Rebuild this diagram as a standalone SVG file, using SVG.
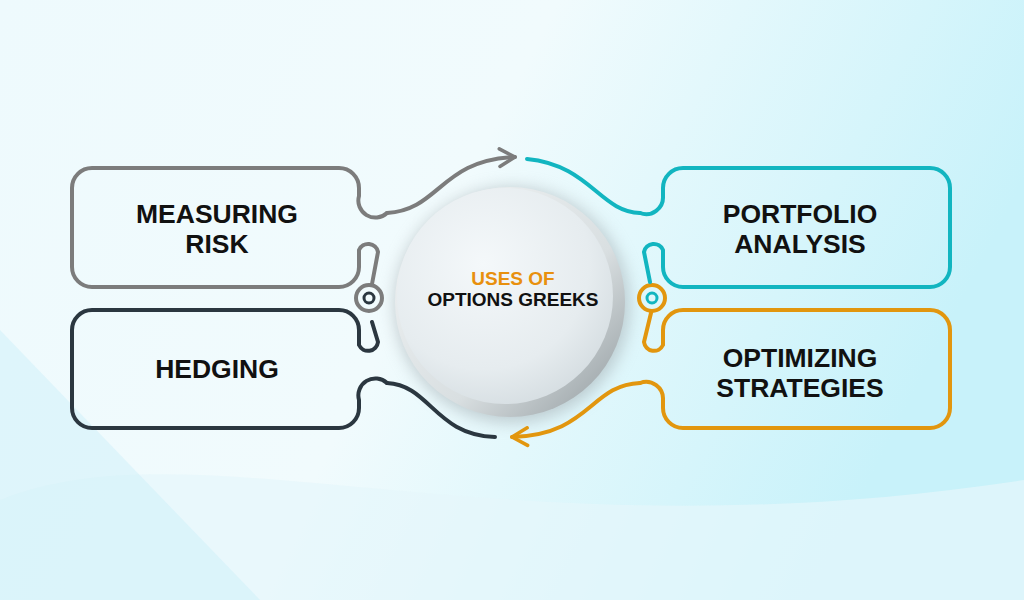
<svg xmlns="http://www.w3.org/2000/svg" width="1024" height="600" viewBox="0 0 1024 600">
<defs>
<linearGradient id="bg" x1="0" y1="0" x2="1" y2="0.3">
<stop offset="0" stop-color="#eefafd"/><stop offset="0.5" stop-color="#f1fbfd"/><stop offset="1" stop-color="#c8f2fa"/>
</linearGradient>
<radialGradient id="disc" cx="0.4" cy="0.35" r="0.7">
<stop offset="0" stop-color="#f4f8fa"/><stop offset="0.7" stop-color="#e6ecef"/><stop offset="1" stop-color="#d5dde1"/>
</radialGradient>
<linearGradient id="rim" x1="0" y1="0" x2="1" y2="1">
<stop offset="0" stop-color="#f2f5f6"/><stop offset="0.6" stop-color="#d9dfe1"/><stop offset="1" stop-color="#8e979b"/>
</linearGradient>
<filter id="sh" x="-30%" y="-30%" width="160%" height="160%"><feGaussianBlur stdDeviation="8"/></filter>
<marker id="arr" viewBox="0 0 10 10" refX="8" refY="5" markerWidth="5.5" markerHeight="5.5" orient="auto"><path d="M1,1 L8,5 L1,9" fill="none" stroke="context-stroke" stroke-width="1.6" stroke-linecap="round" stroke-linejoin="round"/></marker>
</defs>
<style>
.ln{fill:none;stroke-width:4;stroke-linecap:round;stroke-linejoin:round}
.g{stroke:#7c7c7c}.d{stroke:#2b3740}.t{stroke:#12b5c0}.o{stroke:#e2960e}
.lb{font-family:"Liberation Sans",Arial,sans-serif;font-weight:bold;font-size:26.5px;fill:#111;text-anchor:middle}
.c{font-family:"Liberation Sans",Arial,sans-serif;font-weight:bold;font-size:19px;text-anchor:middle}
</style>
<rect width="1024" height="600" fill="url(#bg)"/>
<path d="M0,500 C200,420 500,560 1024,480 L1024,600 L0,600 Z" fill="#e6f7fb" opacity="0.7"/>
<path d="M0,330 L0,600 L260,600 Z" fill="#c5eef8" opacity="0.4"/>
<g id="center">
<circle cx="512" cy="305" r="118" fill="#9aa3a7" opacity="0.5" filter="url(#sh)"/>
<circle cx="510" cy="302" r="115" fill="url(#rim)"/>
<circle cx="505" cy="296" r="108" fill="url(#disc)"/>
<text class="c" x="513" y="285" fill="#e8900e">USES OF</text>
<text class="c" x="513" y="306" fill="#111">OPTIONS GREEKS</text>
</g>
<g id="connectors">
<path class="ln g" d="M387,213 C440,210 440,160 515,157" marker-end="url(#arr)"/>
<path class="ln t" d="M527,159 C590,165 600,212 640,213"/>
<path class="ln o" d="M640,383 C590,385 590,435 512,437" marker-end="url(#arr)"/>
<path class="ln d" d="M387,383 C430,385 435,435 495,437"/>
<circle cx="369" cy="298" r="13" fill="none" stroke="#7c7c7c" stroke-width="4"/>
<circle cx="369" cy="298" r="5" fill="none" stroke="#2b3740" stroke-width="3"/>
<circle cx="652" cy="298" r="13" fill="none" stroke="#e2960e" stroke-width="4"/>
<circle cx="652" cy="298" r="5" fill="none" stroke="#12b5c0" stroke-width="3"/>
</g>
<g id="measuring">
<path class="ln g" d="M372,284 L378,252 A10,10 0 0 0 359,250 L359,267 A20,20 0 0 1 339,287 L92,287 A20,20 0 0 1 72,267 L72,188 A20,20 0 0 1 92,168 L339,168 A20,20 0 0 1 359,188 L359,196 A17,17 0 0 0 387,213"/>
<text class="lb" x="217" y="223">MEASURING</text>
<text class="lb" x="217" y="253">RISK</text>
</g>
<g id="hedging">
<path class="ln d" d="M372,322 L378,342 A10,10 0 0 1 359,345 L359,330 A20,20 0 0 0 339,310 L92,310 A20,20 0 0 0 72,330 L72,408 A20,20 0 0 0 92,428 L339,428 A20,20 0 0 0 359,408 L359,400 A17,17 0 0 1 387,383"/>
<text class="lb" x="217" y="378">HEDGING</text>
</g>
<g id="portfolio">
<path class="ln t" d="M650,282 L644,252 A10,10 0 0 1 663,250 L663,267 A20,20 0 0 0 683,287 L930,287 A20,20 0 0 0 950,267 L950,188 A20,20 0 0 0 930,168 L683,168 A20,20 0 0 0 663,188 L663,196 A17,17 0 0 1 640,213"/>
<text class="lb" x="800" y="223">PORTFOLIO</text>
<text class="lb" x="800" y="253">ANALYSIS</text>
</g>
<g id="optimizing">
<path class="ln o" d="M651,313 L644,342 A10,10 0 0 0 663,345 L663,330 A20,20 0 0 1 683,310 L930,310 A20,20 0 0 1 950,330 L950,408 A20,20 0 0 1 930,428 L683,428 A20,20 0 0 1 663,408 L663,400 A17,17 0 0 0 640,383"/>
<text class="lb" x="800" y="367">OPTIMIZING</text>
<text class="lb" x="800" y="397">STRATEGIES</text>
</g>
</svg>
